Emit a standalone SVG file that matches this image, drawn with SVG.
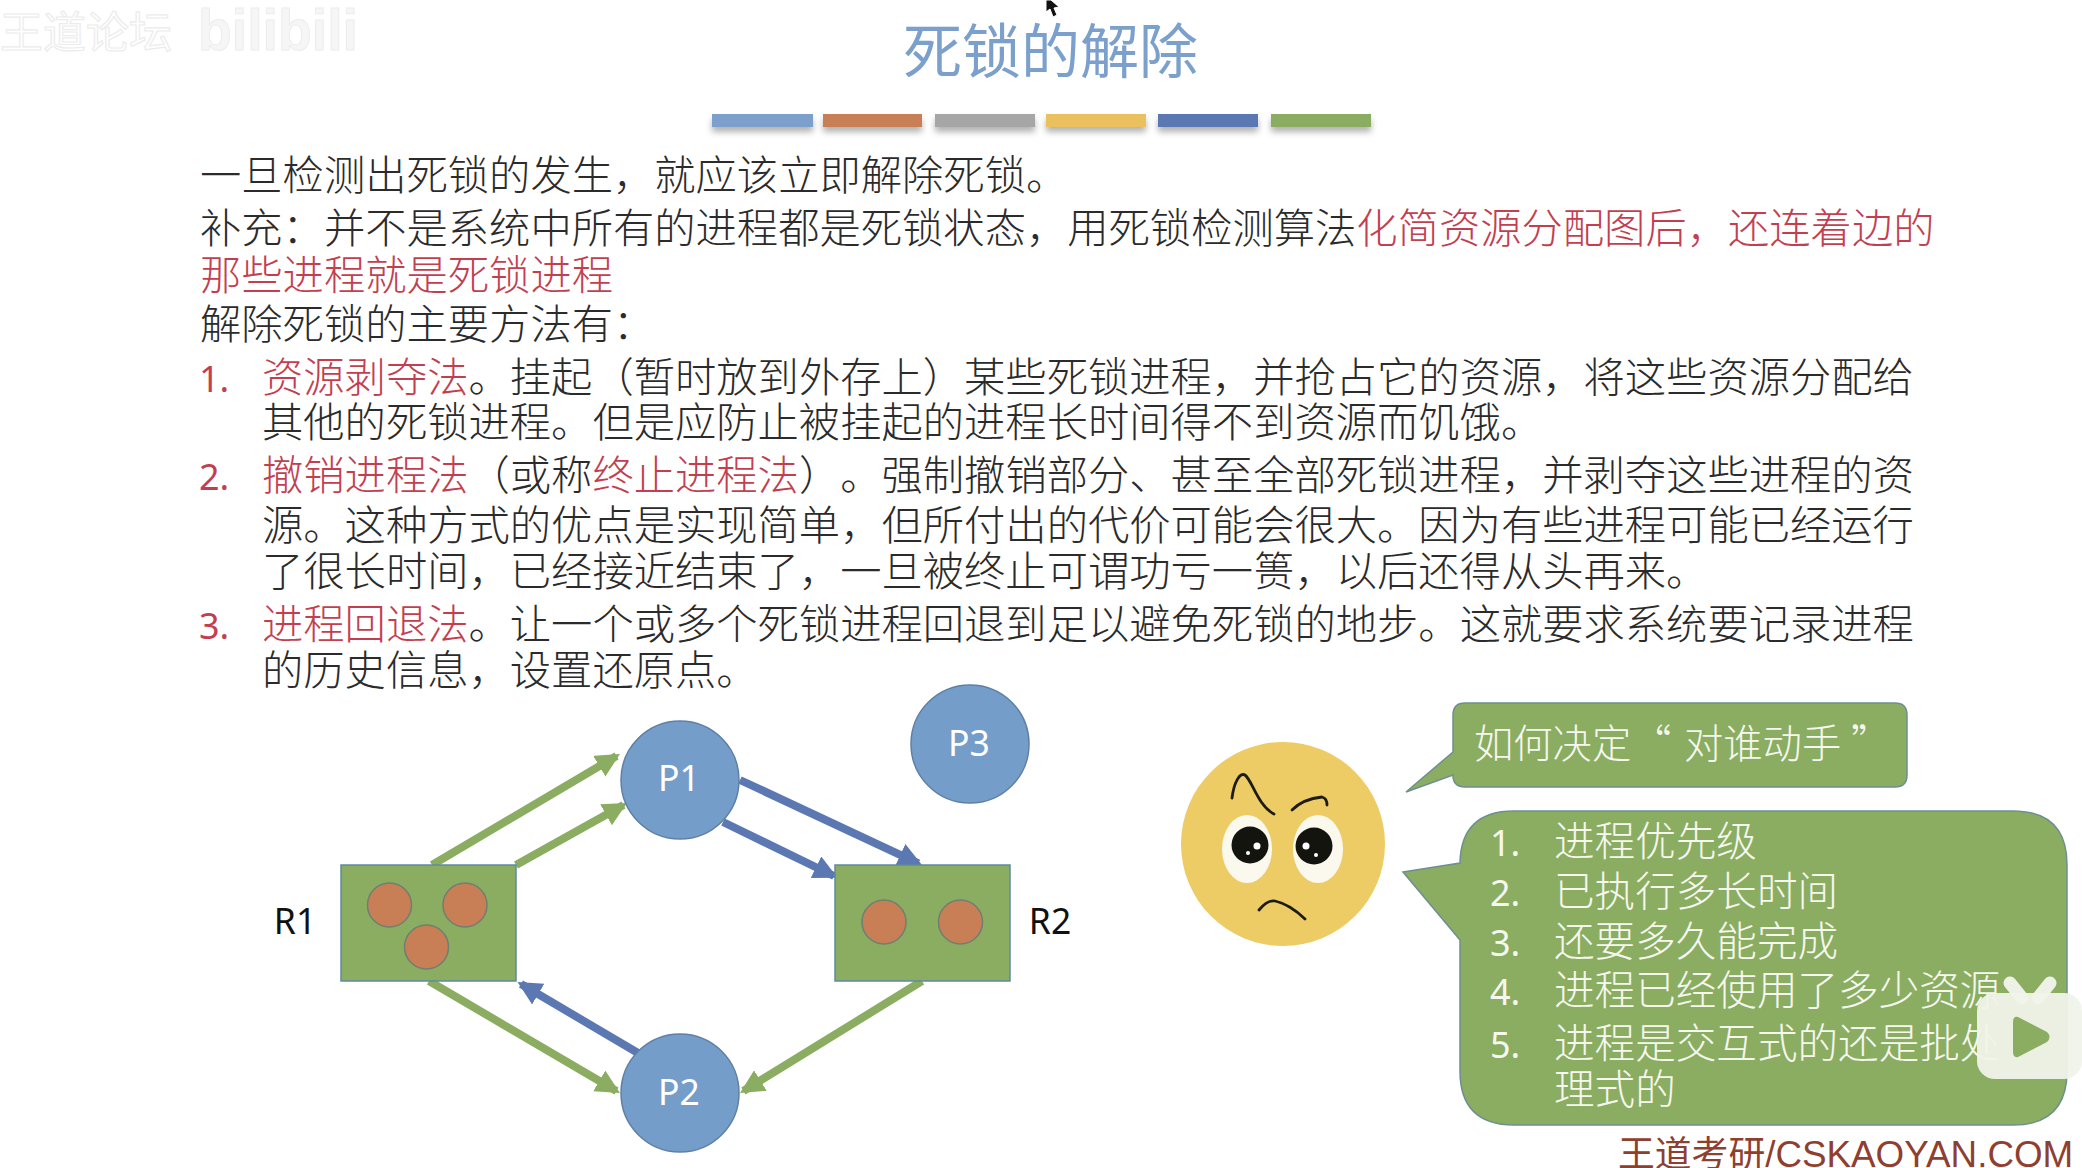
<svg xmlns="http://www.w3.org/2000/svg" width="2082" height="1168" viewBox="0 0 2082 1168">
<style>
text{font-family:"Noto Sans CJK SC","Noto Sans",sans-serif;text-spacing-trim:space-all}
.t{font-size:41.3px;fill:#2b2b2b;font-weight:300}
.r{fill:#c33f50}
.n{font-family:"Noto Sans","Noto Sans CJK SC",sans-serif;font-size:36px;fill:#c33f50}
.w{font-size:40.6px;fill:#f6f8f0;font-weight:300}
.wn{font-family:"Noto Sans","Noto Sans CJK SC",sans-serif;font-size:36px;fill:#f6f8f0}
.lab{font-family:"Noto Sans","Noto Sans CJK SC",sans-serif;font-size:35.5px;text-anchor:middle}
.p{fill:#759dc9;stroke:#5f80a6;stroke-width:1.5}
.res{fill:#8bad62;stroke:#5f8aa0;stroke-width:1.5}
.dot{fill:#c97f56;stroke:#6f7f70;stroke-width:1.5}
.g{stroke:#8bad62;stroke-width:8;fill:none;marker-end:url(#ag)}
.b{stroke:#5b78b2;stroke-width:8;fill:none;marker-end:url(#ab)}
.bub{fill:#8bad62;stroke:#6d8f90;stroke-width:1.5}
.br{fill:none;stroke:#1c1c14;stroke-width:2.8;stroke-linecap:round}
</style>
<defs>
<marker id="ag" markerUnits="userSpaceOnUse" markerWidth="26" markerHeight="26" refX="20" refY="12" orient="auto"><path d="M0 0L24 12L0 24Z" fill="#8bad62"/></marker>
<marker id="ab" markerUnits="userSpaceOnUse" markerWidth="26" markerHeight="26" refX="20" refY="12" orient="auto"><path d="M0 0L24 12L0 24Z" fill="#5b78b2"/></marker>
<filter id="sh" x="-10%" y="-50%" width="120%" height="250%"><feDropShadow dx="0" dy="5" stdDeviation="3" flood-color="#000" flood-opacity=".3"/></filter>
</defs>
<rect width="2082" height="1168" fill="#fff"/>

<g id="watermark">
<text x="0" y="48" font-size="43" fill="#fff" stroke="#ececec" stroke-width="1.2">王道论坛</text>
<text x="198" y="50" font-size="58" font-weight="700" fill="#f6f6f6" stroke="#ececec" style="font-family:'Liberation Sans',sans-serif" textLength="160" lengthAdjust="spacingAndGlyphs">bilibili</text>
</g>
<polygon id="cursor" points="1046,0 1046,12 1050,9 1053,17 1057,15 1054,8 1059,7 1051,0" fill="#111" stroke="#fff" stroke-width="1"/>

<g id="title">
<text x="903" y="73" font-size="59" fill="#7ba0cb">死锁的解除</text>
<g filter="url(#sh)">
<rect x="712" y="114" width="101" height="13" fill="#7ba0cb"/>
<rect x="823" y="114" width="99" height="13" fill="#c97f56"/>
<rect x="935" y="114" width="100" height="13" fill="#a6a6a6"/>
<rect x="1046" y="114" width="100" height="13" fill="#ebc05f"/>
<rect x="1158" y="114" width="100" height="13" fill="#5b78b2"/>
<rect x="1271" y="114" width="100" height="13" fill="#8bad62"/>
</g>
</g>

<g id="body">
<text class="t" x="200" y="190">一旦检测出死锁的发生，就应该立即解除死锁。</text>
<text class="t" x="200" y="243">补充：并不是系统中所有的进程都是死锁状态，用死锁检测算法<tspan class="r">化简资源分配图后，还连着边的</tspan></text>
<text class="t r" x="200" y="290">那些进程就是死锁进程</text>
<text class="t" x="200" y="339">解除死锁的主要方法有：</text>
<text class="n" x="199" y="392">1.</text>
<text class="t" x="262" y="392"><tspan class="r">资源剥夺法</tspan>。挂起（暂时放到外存上）某些死锁进程，并抢占它的资源，将这些资源分配给</text>
<text class="t" x="262" y="437">其他的死锁进程。但是应防止被挂起的进程长时间得不到资源而饥饿。</text>
<text class="n" x="199" y="490">2.</text>
<text class="t" x="262" y="490"><tspan class="r">撤销进程法</tspan>（或称<tspan class="r">终止进程法</tspan>）。强制撤销部分、甚至全部死锁进程，并剥夺这些进程的资</text>
<text class="t" x="262" y="540">源。这种方式的优点是实现简单，但所付出的代价可能会很大。因为有些进程可能已经运行</text>
<text class="t" x="262" y="586">了很长时间，已经接近结束了，一旦被终止可谓功亏一篑，以后还得从头再来。</text>
<text class="n" x="199" y="639">3.</text>
<text class="t" x="262" y="639"><tspan class="r">进程回退法</tspan>。让一个或多个死锁进程回退到足以避免死锁的地步。这就要求系统要记录进程</text>
<text class="t" x="262" y="685">的历史信息，设置还原点。</text>
</g>

<g id="connectors">
<line class="g" x1="432" y1="865" x2="616.5" y2="756"/>
<line class="g" x1="516" y1="865" x2="623.5" y2="805"/>
<line class="b" x1="740" y1="780" x2="918.4" y2="863.3"/>
<line class="b" x1="723" y1="822" x2="834" y2="876"/>
<line class="g" x1="429" y1="981" x2="616.5" y2="1091"/>
<line class="g" x1="922" y1="981" x2="743.4" y2="1091"/>
<line class="b" x1="638" y1="1053" x2="521" y2="984"/>
</g>

<g id="R1">
<rect class="res" x="341" y="865" width="175" height="116"/>
<ellipse class="dot" cx="389.5" cy="905" rx="22" ry="22"/>
<ellipse class="dot" cx="465" cy="905" rx="22" ry="22"/>
<ellipse class="dot" cx="426.5" cy="947" rx="22" ry="22"/>
<text class="lab" x="295" y="934" fill="#111">R1</text>
</g>
<g id="R2">
<rect class="res" x="835" y="865" width="175" height="116"/>
<ellipse class="dot" cx="884" cy="922" rx="22" ry="22"/>
<ellipse class="dot" cx="960.5" cy="922" rx="22" ry="22"/>
<text class="lab" x="1050" y="934" fill="#111">R2</text>
</g>
<g id="P1"><circle class="p" cx="680" cy="780" r="59"/><text class="lab" x="679" y="791" fill="#fff">P1</text></g>
<g id="P2"><circle class="p" cx="680" cy="1093" r="59"/><text class="lab" x="679" y="1105" fill="#fff">P2</text></g>
<g id="P3"><circle class="p" cx="970" cy="744" r="59"/><text class="lab" x="969" y="756" fill="#fff">P3</text></g>

<g id="face">
<circle cx="1283" cy="844" r="102" fill="#edcc66"/>
<ellipse cx="1247" cy="849" rx="25" ry="34" fill="#fbf8ee"/>
<ellipse cx="1318" cy="849" rx="25" ry="34" fill="#fbf8ee"/>
<ellipse cx="1250" cy="845" rx="18.5" ry="18.5" fill="#14140f"/>
<ellipse cx="1314" cy="846" rx="18.5" ry="18.5" fill="#14140f"/>
<circle cx="1257" cy="846" r="3.5" fill="#fff"/><circle cx="1248" cy="853" r="2" fill="#fff"/>
<circle cx="1306" cy="846" r="3.5" fill="#fff"/><circle cx="1316" cy="855" r="2" fill="#fff"/>
<path class="br" d="M1232 798C1234 782 1240 772 1245 775C1252 780 1258 806 1274 814"/>
<path class="br" d="M1292 810C1300 802 1312 798 1322 797C1326 798 1327 802 1327 805"/>
<path class="br" d="M1259 910C1264 904 1270 900 1275 901C1284 903 1296 910 1305 919"/>
</g>

<g id="bubble1">
<path class="bub" d="M1406 792L1453 752V715Q1453 703 1465 703H1895Q1907 703 1907 715V775Q1907 787 1895 787H1465Q1453 787 1453 775Z"/>
<text class="w" x="1474" y="758" style="font-size:39.3px">如何决定<tspan x="1632">“</tspan><tspan x="1684">对谁动手</tspan><tspan x="1851">”</tspan></text>
</g>
<g id="bubble2">
<path class="bub" d="M1403 872L1460 863Q1461 811 1514 811H2013Q2067 811 2067 865V1071Q2067 1125 2013 1125H1514Q1460 1125 1460 1071V940Z"/>
<text class="wn" x="1490" y="856">1.</text><text class="w" x="1554" y="856">进程优先级</text>
<text class="wn" x="1490" y="906">2.</text><text class="w" x="1554" y="906">已执行多长时间</text>
<text class="wn" x="1490" y="956">3.</text><text class="w" x="1554" y="956">还要多久能完成</text>
<text class="wn" x="1490" y="1005">4.</text><text class="w" x="1554" y="1005">进程已经使用了多少资源</text>
<text class="wn" x="1490" y="1058">5.</text><text class="w" x="1554" y="1058">进程是交互式的还是批处</text>
<text class="w" x="1554" y="1104">理式的</text>
</g>

<g id="play">
<path d="M2010 983L2022 998M2050 983L2038 998" stroke="#eef1e6" stroke-width="13" stroke-linecap="round" fill="none"/>
<rect x="1977" y="993" width="105" height="86" rx="18" fill="#f0f3e9" fill-opacity=".95"/>
<path d="M2018 1017L2047 1032Q2052 1037 2047 1042L2018 1057Q2013 1058 2013 1052V1022Q2013 1016 2018 1017Z" fill="#8bad62"/>
</g>

<text id="footer" x="1618" y="1167" font-size="36.8" fill="#8f3f30" style="font-family:'Liberation Sans','Noto Sans CJK SC',sans-serif">王道考研/CSKAOYAN.COM</text>
</svg>
